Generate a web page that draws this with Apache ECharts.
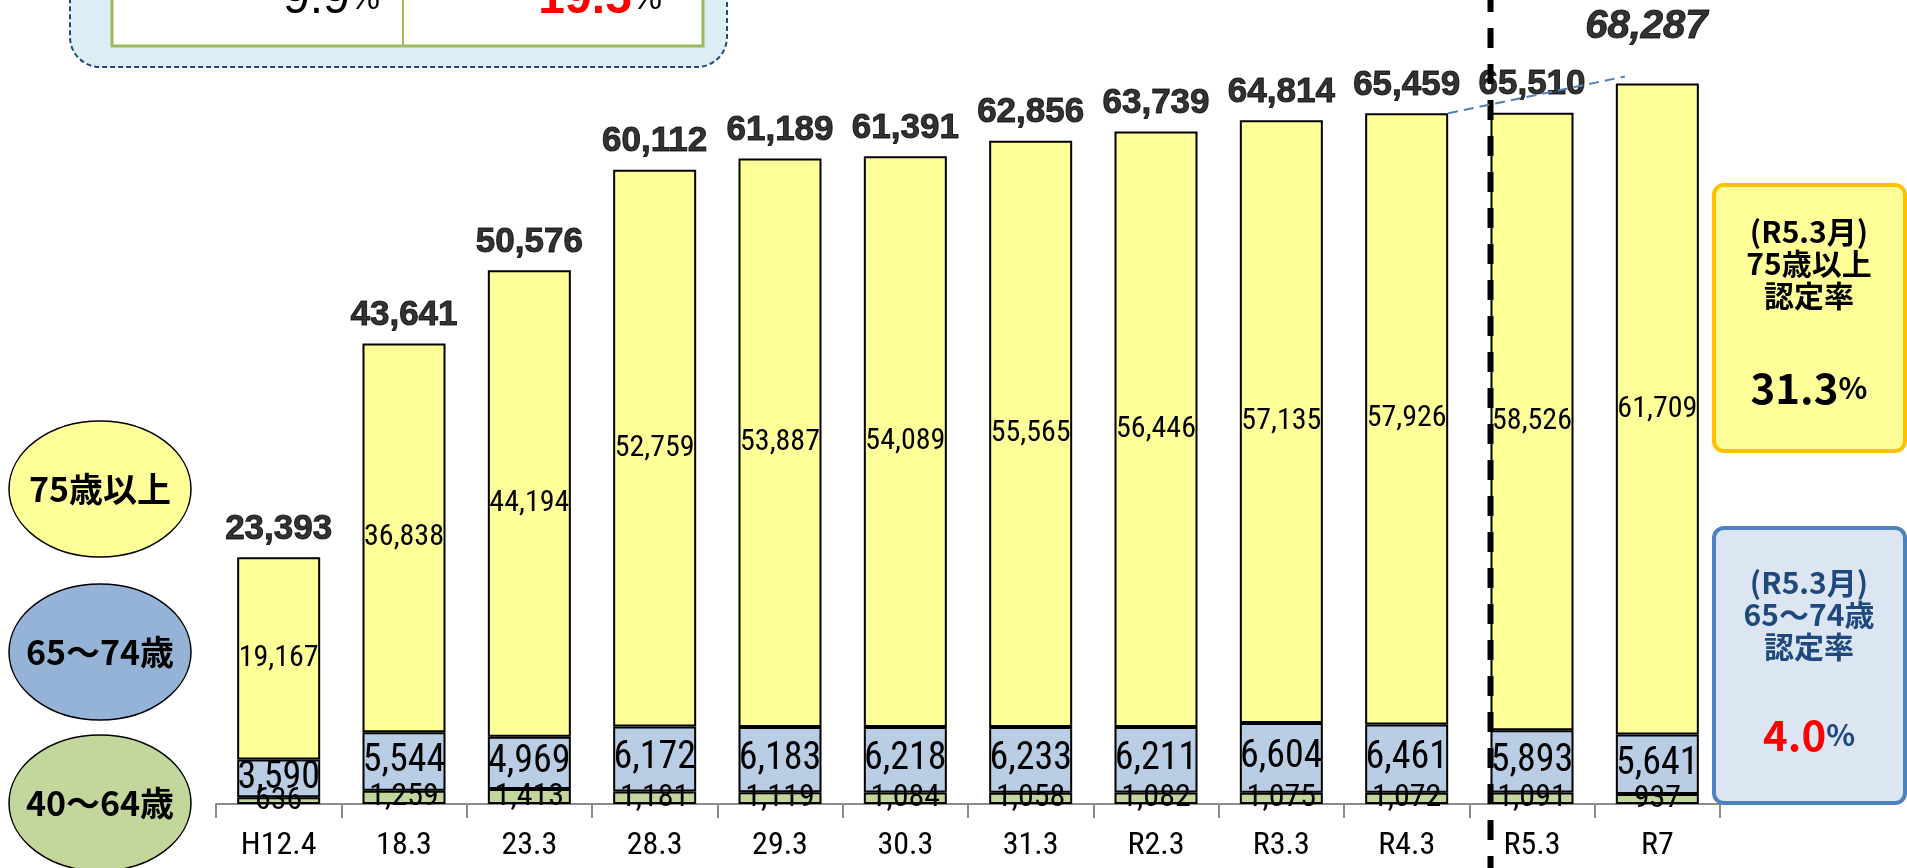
<!DOCTYPE html>
<html>
<head>
<meta charset="utf-8">
<script src="https://cdn.jsdelivr.net/npm/echarts@6/dist/echarts.min.js"></script>
<style>
html, body { margin: 0; padding: 0; background: #fff; }
#chart { width: 1907px; height: 868px; }
</style>
</head>
<body>
<div id="chart"></div>
<script>
// 要介護認定者数の推移
const categories = ['H12.4', '18.3', '23.3', '28.3', '29.3', '30.3', '31.3', 'R2.3', 'R3.3', 'R4.3', 'R5.3', 'R7'];
const age40to64 = [636, 1259, 1413, 1181, 1119, 1084, 1058, 1082, 1075, 1072, 1091, 937];
const age65to74 = [3590, 5544, 4969, 6172, 6183, 6218, 6233, 6211, 6604, 6461, 5893, 5641];
const age75plus = [19167, 36838, 44194, 52759, 53887, 54089, 55565, 56446, 57135, 57926, 58526, 61709];
const totals = [23393, 43641, 50576, 60112, 61189, 61391, 62856, 63739, 64814, 65459, 65510, 68287];

const NARROW = "'Roboto Condensed', 'DejaVu Sans Condensed', sans-serif";
const JP = "'Noto Sans CJK JP', 'Liberation Sans', sans-serif";
const BAR_W = 83;

const chart = echarts.init(document.getElementById('chart'));
const fmt = v => Number(v).toLocaleString('en-US');

function segment(name, data, color, fontSize) {
  return {
    name: name,
    type: 'bar',
    stack: 'total',
    data: data,
    barWidth: BAR_W,
    itemStyle: { color: color, borderColor: '#000', borderWidth: 2 },
    label: {
      show: true, position: 'inside', color: '#000',
      fontFamily: NARROW, fontSize: fontSize,
      formatter: p => fmt(p.value)
    },
    emphasis: { disabled: true },
    z: 3
  };
}

// 左側の凡例（楕円）
function ellipse(cy, color, text) {
  return [
    { type: 'ellipse', shape: { cx: 100, cy: cy, rx: 91, ry: 68 },
      style: { fill: color, stroke: '#000', lineWidth: 1.5 }, z: 10 },
    { type: 'text', x: 100, y: cy,
      style: { text: text, align: 'center', verticalAlign: 'middle',
               fontFamily: JP, fontWeight: 'bold', fontSize: 34, fill: '#000' }, z: 11 }
  ];
}

// 右側の認定率ボックス
function rateBox(y, h, fill, stroke, color, title, rate, rateColor, offs) {
  const cx = 1809;
  const t = (text, ty) => ({
    type: 'text', x: cx, y: ty,
    style: { text: text, align: 'center', verticalAlign: 'middle',
             fontFamily: JP, fontWeight: 'bold', fontSize: 30, fill: color }, z: 11
  });
  return [
    { type: 'rect', shape: { x: 1714, y: y, width: 191, height: h, r: 10 },
      style: { fill: fill, stroke: stroke, lineWidth: 4 }, z: 10 },
    t('(R5.3月)', y + offs[0]),
    t(title, y + offs[1]),
    t('認定率', y + offs[2]),
    { type: 'text', x: cx, y: y + offs[3],
      style: { text: '{a|' + rate + '}{b|%}', align: 'center', verticalAlign: 'middle',
               rich: {
                 a: { fontFamily: JP, fontWeight: 'bold', fontSize: 42, fill: rateColor },
                 b: { fontFamily: JP, fontWeight: 'bold', fontSize: 30, fill: color }
               } }, z: 11 }
  ];
}

const staticGraphics = [].concat(
  ellipse(489, '#FFFF99', '75歳以上'),
  ellipse(652, '#95B3D7', '65～74歳'),
  ellipse(803, '#C3D69B', '40～64歳'),
  rateBox(185, 266, '#FFFF99', '#FFC000', '#000', '75歳以上', '31.3', '#000', [47, 79, 111, 203]),
  rateBox(528, 275, '#DCE6F2', '#4F81BD', '#1F497D', '65～74歳', '4.0', '#FF0000', [55, 87, 119, 207]),
  [
    // 上部の表（見切れ）
    { type: 'rect', shape: { x: 70, y: -40, width: 657, height: 107, r: 30 },
      style: { fill: '#DBEEF4', stroke: '#1F497D', lineWidth: 2, lineDash: [5, 3] }, z: 10 },
    { type: 'rect', shape: { x: 112, y: -20, width: 591, height: 66 },
      style: { fill: '#fff', stroke: '#9BBB59', lineWidth: 3 }, z: 11 },
    { type: 'line', shape: { x1: 403, y1: -20, x2: 403, y2: 46 },
      style: { stroke: '#9BBB59', lineWidth: 2 }, z: 12 },
    { type: 'text', x: 380, y: 24,
      style: { text: '{a|9.9}{b|%}', align: 'right', verticalAlign: 'bottom',
               rich: { a: { fontFamily: 'Liberation Sans', fontSize: 48, fill: '#000' },
                       b: { fontFamily: 'Liberation Sans', fontSize: 34, fill: '#000' } } }, z: 12 },
    { type: 'text', x: 662, y: 24,
      style: { text: '{a|19.5}{b|%}', align: 'right', verticalAlign: 'bottom',
               rich: { a: { fontFamily: 'Liberation Sans', fontWeight: 'bold', fontSize: 48, fill: '#FF0000' },
                       b: { fontFamily: 'Liberation Sans', fontSize: 34, fill: '#000' } } }, z: 12 }
  ]
);

const option = {
  animation: false,
  backgroundColor: '#fff',
  grid: { left: 216, right: 187, top: 0, bottom: 64, containLabel: false, outerBoundsMode: 'none' },
  xAxis: {
    type: 'category',
    data: categories,
    axisLine: { lineStyle: { color: '#8c8c8c', width: 2 } },
    axisTick: { show: true, length: 14, lineStyle: { color: '#8c8c8c', width: 2 } },
    axisLabel: { color: '#000', fontFamily: NARROW, fontSize: 32, margin: 26 }
  },
  yAxis: {
    type: 'value', min: 0, max: 76200, show: false,
    splitLine: { show: false }
  },
  series: [
    segment('40～64歳', age40to64, '#C3D69B', 32),
    segment('65～74歳', age65to74, '#B9CDE5', 38),
    segment('75歳以上', age75plus, '#FFFF99', 30),
    {
      name: '合計',
      type: 'scatter',
      symbolSize: 1,
      itemStyle: { color: 'rgba(0,0,0,0)' },
      data: totals.map((v, i) => i === totals.length - 1
        ? { value: v, label: { fontStyle: 'italic', fontSize: 40, distance: 36, offset: [-11, 0] } }
        : { value: v }),
      label: {
        show: true, position: 'top', distance: 10, color: '#000',
        fontFamily: 'Liberation Sans', fontWeight: 'bold', fontSize: 35,
        textBorderColor: '#000', textBorderWidth: 1,
        formatter: p => fmt(p.value)
      },
      emphasis: { disabled: true },
      z: 5
    }
  ],
  graphic: staticGraphics
};

chart.setOption(option);

// 区切り線と推計への破線はスケールから位置を求める
const xc = i => chart.convertToPixel({ xAxisIndex: 0 }, categories[i]);
const yv = v => chart.convertToPixel({ yAxisIndex: 0 }, v);
const last = totals.length - 1;
const divX = xc(10) - BAR_W / 2;

chart.setOption({
  graphic: staticGraphics.concat([
    { type: 'line', shape: { x1: divX, y1: 0, x2: divX, y2: 868 },
      style: { stroke: '#000', lineWidth: 6, lineDash: [20, 16], lineDashOffset: 8 }, z: 20 },
    { type: 'line',
      shape: { x1: xc(9) + BAR_W / 2, y1: yv(totals[9]),
               x2: xc(last) - BAR_W / 2 + 9, y2: yv(totals[last]) - 7 },
      style: { stroke: '#4F81BD', lineWidth: 2, lineDash: [10, 6] }, z: 20 }
  ])
}, { replaceMerge: ['graphic'] });
</script>
</body>
</html>
